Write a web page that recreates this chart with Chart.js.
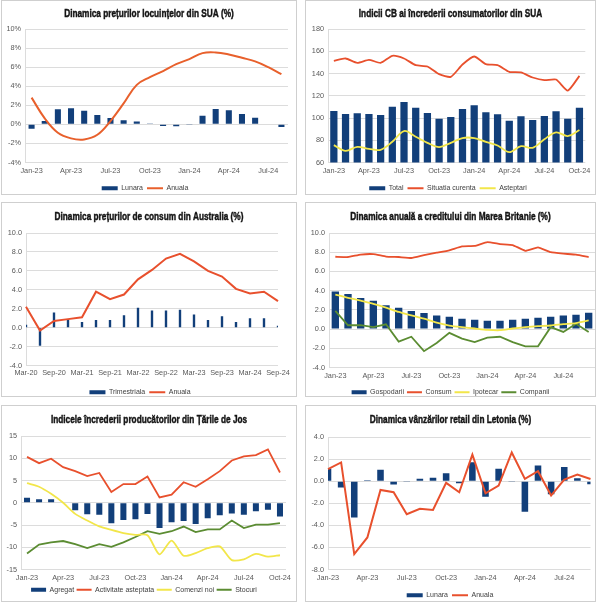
<!DOCTYPE html>
<html>
<head>
<meta charset="utf-8">
<script src="https://cdn.jsdelivr.net/npm/chart.js@4.4.1/dist/chart.umd.min.js"></script>
<style>
html,body{margin:0;padding:0;background:#fff;}
body{width:600px;height:602px;position:relative;overflow:hidden;}
.p{position:absolute;border:1px solid #cfcfcf;box-sizing:border-box;background:#fff;}
.p canvas{position:absolute;left:0;top:0;}
</style>
</head>
<body>
<div class="p" id="d1" style="left:1px;top:0px;width:296px;height:195px"><canvas id="c1"></canvas></div>
<div class="p" id="d2" style="left:305px;top:0px;width:291px;height:195px"><canvas id="c2"></canvas></div>
<div class="p" id="d3" style="left:1px;top:202px;width:296px;height:195px"><canvas id="c3"></canvas></div>
<div class="p" id="d4" style="left:305px;top:202px;width:291px;height:195px"><canvas id="c4"></canvas></div>
<div class="p" id="d5" style="left:1px;top:405px;width:296px;height:197px"><canvas id="c5"></canvas></div>
<div class="p" id="d6" style="left:305px;top:405px;width:291px;height:197px"><canvas id="c6"></canvas></div>
<script>
// ---------- DATA ----------
// Panel 1: US house prices
const p1Labels = ['Jan-23','Feb-23','Mar-23','Apr-23','May-23','Jun-23','Jul-23','Aug-23','Sep-23','Oct-23','Nov-23','Dec-23','Jan-24','Feb-24','Mar-24','Apr-24','May-24','Jun-24','Jul-24','Aug-24'];
const p1Lunara = [-0.45,0.35,1.58,1.68,1.44,0.98,0.67,0.42,0.3,0.1,-0.18,-0.2,-0.07,0.91,1.61,1.47,1.09,0.7,0.07,-0.28];
const p1Anuala = [2.8,0.63,-0.88,-1.47,-1.58,-1.09,0.35,2.2,4.14,4.95,5.58,6.32,6.84,7.47,7.54,7.33,6.98,6.6,6.0,5.26];

// Panel 2: US CB consumer confidence
const p2Labels = ['Jan-23','Feb-23','Mar-23','Apr-23','May-23','Jun-23','Jul-23','Aug-23','Sep-23','Oct-23','Nov-23','Dec-23','Jan-24','Feb-24','Mar-24','Apr-24','May-24','Jun-24','Jul-24','Aug-24','Sep-24','Oct-24'];
const p2Total = [106.3,103.6,104.2,103.6,102.7,110.2,114.4,109.3,104.5,99.4,100.9,108.1,111.4,105.1,103.3,97.6,101.5,98.2,101.8,106.0,99.4,109.3];
const p2Situatia = [151.4,153.5,149.6,152.3,149.6,155.9,153.5,147.5,146.3,139.4,137.0,148.1,155.3,148.4,147.5,141.5,140.9,136.4,134.0,134.6,124.7,137.9];
const p2Asteptari = [75.6,70.5,74.1,72.3,71.4,78.6,88.3,83.2,77.7,73.8,77.7,82.0,82.0,78.6,75.3,69.3,74.7,73.2,80.8,87.1,83.8,89.2];

// Panel 3: Australia CPI
const p3Labels = ['Mar-20','Jun-20','Sep-20','Dec-20','Mar-21','Jun-21','Sep-21','Dec-21','Mar-22','Jun-22','Sep-22','Dec-22','Mar-23','Jun-23','Sep-23','Dec-23','Mar-24','Jun-24','Sep-24'];
const p3Trimestriala = [0.3,-1.9,1.6,0.9,0.6,0.8,0.8,1.3,2.1,1.8,1.8,1.9,1.4,0.8,1.2,0.6,1.0,1.0,0.2];
const p3Anuala = [2.2,-0.3,0.7,0.9,1.1,3.8,3.0,3.5,5.1,6.1,7.3,7.8,7.0,6.0,5.4,4.1,3.6,3.8,2.8];

// Panel 4: UK credit
const p4Labels = ['Jan-23','Feb-23','Mar-23','Apr-23','May-23','Jun-23','Jul-23','Aug-23','Sep-23','Oct-23','Nov-23','Dec-23','Jan-24','Feb-24','Mar-24','Apr-24','May-24','Jun-24','Jul-24','Aug-24','Sep-24'];
const p4Gospodarii = [3.9,3.65,3.23,2.95,2.49,2.21,1.89,1.68,1.4,1.29,1.08,0.97,0.87,0.87,0.97,1.08,1.18,1.29,1.4,1.5,1.71];
const p4Consum = [7.53,7.5,7.75,7.8,7.55,7.5,7.4,7.7,7.95,8.2,8.6,8.65,9.05,8.85,8.75,8.15,8.5,8.0,7.85,7.75,7.5];
const p4Ipotecar = [3.58,3.26,2.95,2.63,2.24,1.78,1.43,1.08,0.66,0.37,0.2,0.06,-0.08,-0.12,0.06,0.2,0.3,0.37,0.51,0.62,0.9];
const p4Companii = [1.9,0.4,0.4,0.2,0.5,-1.3,-0.8,-2.3,-1.45,-0.4,-1.0,-1.35,-0.9,-0.8,-1.35,-1.8,-1.8,0.2,-0.3,0.55,-0.3];

// Panel 5: Netherlands producer confidence
const p5Labels = ['Jan-23','Feb-23','Mar-23','Apr-23','May-23','Jun-23','Jul-23','Aug-23','Sep-23','Oct-23','Nov-23','Dec-23','Jan-24','Feb-24','Mar-24','Apr-24','May-24','Jun-24','Jul-24','Aug-24','Sep-24','Oct-24'];
const p5Agregat = [1.1,0.8,0.8,-0.1,-1.7,-2.6,-2.7,-4.6,-3.9,-3.7,-2.5,-5.7,-4.4,-4.1,-4.8,-3.5,-2.8,-2.4,-2.7,-1.9,-1.6,-3.1];
const p5Activitate = [10.3,8.9,9.9,8.0,7.1,6.0,6.7,2.4,4.2,4.2,5.9,1.2,1.8,4.6,3.6,5.3,7.1,9.5,10.4,10.7,12.0,6.8];
const p5Comenzi = [4.4,3.6,2.0,0.0,-2.5,-4.0,-5.3,-6.1,-6.8,-7.2,-7.3,-11.6,-8.5,-11.9,-11.3,-10.2,-9.8,-12.9,-12.7,-11.5,-12.1,-11.8];
const p5Stocuri = [-11.4,-9.4,-8.9,-8.6,-9.3,-10.2,-9.3,-9.9,-8.9,-7.7,-6.4,-7.0,-6.4,-5.35,-6.6,-6.0,-6.0,-4.0,-5.7,-4.9,-4.9,-4.6];

// Panel 6: Latvia retail sales
const p6Labels = ['Jan-23','Feb-23','Mar-23','Apr-23','May-23','Jun-23','Jul-23','Aug-23','Sep-23','Oct-23','Nov-23','Dec-23','Jan-24','Feb-24','Mar-24','Apr-24','May-24','Jun-24','Jul-24','Aug-24','Sep-24'];
const p6Lunara = [1.13,-0.58,-3.3,0.08,1.04,-0.3,-0.07,0.23,0.32,0.71,-0.19,1.71,-1.4,1.13,-0.07,-2.78,1.43,-1.18,1.29,0.26,-0.28];
const p6Anuala = [1.1,1.7,-6.6,-5.1,-0.8,-1.0,-3.0,-2.5,-2.6,-0.15,-1.0,2.4,-1.1,-0.4,2.6,0.2,0.9,-1.3,0.15,0.6,0.2];

// ---------- STYLE ----------
const BLUE = '#123f7a';
const RED = '#e8502d';
const ORANGE = '#e8602c';
const YELLOW = '#f2e64a';
const GREEN = '#5b8c32';
const FONT = "'Liberation Sans', Arial, sans-serif";

const titlePlugin = {
  id:'ctitle',
  afterDraw(chart, args, opts){
    const ctx = chart.ctx;
    ctx.save();
    ctx.font = "bold 11px 'Liberation Sans', Arial, sans-serif";
    ctx.fillStyle = '#141414';
    ctx.strokeStyle = '#141414';
    ctx.lineWidth = 0.45;
    ctx.textAlign = 'center';
    ctx.textBaseline = 'middle';
    ctx.translate(chart.width/2, opts.y);
    ctx.scale(0.75, 1);
    ctx.fillText(opts.text, 0, 0);
    ctx.strokeText(opts.text, 0, 0);
    ctx.restore();
  }
};

function barDs(label, data, pct){
  return {type:'bar', label, data, backgroundColor:BLUE, borderWidth:0, pointStyle:'rect', order:2,
          barPercentage:pct, categoryPercentage:1};
}
function lineDs(label, data, color, tension, width){
  return {type:'line', label, data, borderColor:color, backgroundColor:color, borderWidth:width||2,
          pointRadius:0, pointHoverRadius:0, pointStyle:'line', tension:tension||0, order:1, fill:false};
}

function build(id, o){
  const div = document.getElementById('d'+id);
  const cv = document.getElementById('c'+id);
  const w = div.clientWidth, h = div.clientHeight;
  cv.width = w; cv.height = h;
  return new Chart(cv, {
    data:{labels:o.labels, datasets:o.datasets},
    plugins:[titlePlugin],
    options:{
      responsive:false, animation:false, devicePixelRatio:1,
      layout:{padding:{left:0, right:o.padR, top:o.padT, bottom:o.padB}},
      plugins:{
        ctitle:{text:o.title, y:o.titleY},
        title:{display:false},
        legend:{position:'bottom',
          labels:{usePointStyle:true, pointStyleWidth:o.legW||16, boxHeight:4, color:'#404040',
                  font:{family:FONT, size:7}, padding:o.legP,
                  sort:(a,b)=>a.datasetIndex-b.datasetIndex}},
        tooltip:{enabled:false}
      },
      scales:{
        x:{offset:o.offset, grid:{display:false, drawTicks:false}, border:{display:false},
           afterFit:(ax)=>{ ax.height = o.xH; },
           ticks:{autoSkip:false, maxRotation:0, minRotation:0, color:'#595959', padding:o.xPad,
                  font:{family:FONT, size:7.3},
                  callback:function(v,i){ return i % o.every === 0 ? this.getLabelForValue(v) : ''; }}},
        y:{min:o.min, max:o.max,
           afterFit:(ax)=>{ ax.width = o.yW; },
           grid:{color:'#dcdcdc', drawTicks:false, lineWidth:1},
           border:{display:true, color:'#dcdcdc'},
           ticks:{stepSize:o.step, color:'#595959', padding:4, font:{family:FONT, size:7.3},
                  callback:o.fmt}}
      }
    }
  });
}

const pct = v => v + '%';
const dec1 = v => v.toFixed(1);
const int = v => String(v);

build(1, {title:'Dinamica prețurilor locuințelor din SUA (%)', titleY:13, labels:p1Labels,
  datasets:[barDs('Lunara', p1Lunara, 0.46), lineDs('Anuala', p1Anuala, ORANGE, 0.4, 2)],
  min:-4, max:10, step:2, fmt:pct, every:3, offset:true,
  yW:23, padR:8, padT:28, padB:-7.75, xH:18.25, xPad:4.5, legP:4});

build(2, {title:'Indicii CB ai încrederii consumatorilor din SUA', titleY:13, labels:p2Labels,
  datasets:[barDs('Total', p2Total, 0.62), lineDs('Situatia curenta', p2Situatia, RED, 0.2, 1.8),
            lineDs('Asteptari', p2Asteptari, YELLOW, 0.35, 1.8)],
  min:60, max:180, step:20, fmt:int, every:3, offset:true,
  yW:22, padR:5, padT:28, padB:-7.75, xH:18.25, xPad:4.5, legP:4});

build(3, {title:'Dinamica prețurilor de consum din Australia (%)', titleY:14, labels:p3Labels,
  datasets:[barDs('Trimestriala', p3Trimestriala, 0.17), lineDs('Anuala', p3Anuala, RED, 0, 2)],
  min:-4, max:10, step:2, fmt:dec1, every:2, offset:false,
  yW:24, padR:18, padT:30, padB:-9.75, xH:19.25, xPad:3.5, legP:4});

build(4, {title:'Dinamica anuală a creditului din Marea Britanie (%)', titleY:14, labels:p4Labels,
  datasets:[barDs('Gospodarii', p4Gospodarii, 0.58), lineDs('Consum', p4Consum, RED, 0.1, 1.8),
            lineDs('Ipotecar', p4Ipotecar, YELLOW, 0.2, 1.8), lineDs('Companii', p4Companii, GREEN, 0, 1.8)],
  min:-4, max:10, step:2, fmt:dec1, every:3, offset:true,
  yW:23, padR:0, padT:30, padB:-9.75, xH:18.25, xPad:4.5, legP:3, legW:15});

build(5, {title:'Indicele încrederii producătorilor din Țările de Jos', titleY:14, labels:p5Labels,
  datasets:[barDs('Agregat', p5Agregat, 0.5), lineDs('Activitate asteptata', p5Activitate, RED, 0, 1.8),
            lineDs('Comenzi noi', p5Comenzi, YELLOW, 0.25, 1.8), lineDs('Stocuri', p5Stocuri, GREEN, 0, 1.8)],
  min:-15, max:15, step:5, fmt:int, every:3, offset:true,
  yW:19, padR:10, padT:30, padB:-2.25, xH:14.25, xPad:4.5, legP:2.5, legW:15});

build(6, {title:'Dinamica vânzărilor retail din Letonia (%)', titleY:14, labels:p6Labels,
  datasets:[barDs('Lunara', p6Lunara, 0.5), lineDs('Anuala', p6Anuala, RED, 0, 2)],
  min:-8, max:4, step:2, fmt:dec1, every:3, offset:false,
  yW:22, padR:1, padT:31, padB:-7.75, xH:18.25, xPad:4.5, legP:4});
</script>
</body>
</html>
